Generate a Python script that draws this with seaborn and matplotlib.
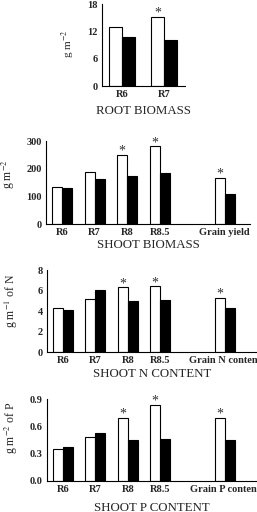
import numpy as np
import pandas as pd
import matplotlib
matplotlib.use("Agg")
import matplotlib.pyplot as plt
import seaborn as sns

sns.set_style("white")
plt.rcParams['font.family'] = ['Liberation Serif', 'DejaVu Serif']
plt.rcParams['mathtext.fontset'] = 'stix'

# dati (barre bianche = trattamento 1, nere = trattamento 2)
root_stages = ['R6', 'R7']
root_white = [13.0, 15.2]
root_black = [10.8, 10.1]
root_star = [False, True]

shoot_stages = ['R6', 'R7', 'R8', 'R8.5', 'Grain yield']
shoot_white = [135, 187, 250, 281, 168]
shoot_black = [132, 161, 173, 184, 110]
shoot_star = [False, False, True, True, True]

n_stages = ['R6', 'R7', 'R8', 'R8.5', 'Grain N content']
n_white = [4.3, 5.2, 6.3, 6.4, 5.3]
n_black = [4.1, 6.1, 5.0, 5.1, 4.3]
n_star = [False, False, True, True, True]

p_stages = ['R6', 'R7', 'R8', 'R8.5', 'Grain P content']
p_white = [0.35, 0.48, 0.69, 0.84, 0.69]
p_black = [0.37, 0.53, 0.45, 0.46, 0.45]
p_star = [False, False, True, True, True]

# (categorie, bianco, nero, asterischi, yticks, formato, ylabel, titolo,
#  posizione assi, posizione ylabel, xlim, labelpad titolo)
panels = [
    (root_stages, root_white, root_black, root_star, [0, 6, 12, 18], '%d',
     r'g m$^{-2}$', 'ROOT BIOMASS', [0.397, 0.832, 0.323, 0.160], (-0.30, 0.51), (-0.48, 1.5), 4),
    (shoot_stages, shoot_white, shoot_black, shoot_star, [0, 100, 200, 300], '%d',
     r'g m$^{-2}$', 'SHOOT BIOMASS', [0.179, 0.5625, 0.794, 0.162], (-0.14, 0.60), (-0.5, 5.78), 1),
    (n_stages, n_white, n_black, n_star, [0, 2, 4, 6, 8], '%d',
     r'g m$^{-1}$ of N', 'SHOOT N CONTENT', [0.183, 0.3125, 0.817, 0.160], (-0.13, 0.62), (-0.5, 6.0), 2),
    (p_stages, p_white, p_black, p_star, [0, 0.3, 0.6, 0.9], '%.1f',
     r'g m$^{-2}$ of P', 'SHOOT P CONTENT', [0.183, 0.0615, 0.817, 0.159], (-0.13, 0.65), (-0.5, 6.0), 6),
]

fig = plt.figure(figsize=(2.57, 5.12), dpi=100)

for stages, white, black, star, yt, fmt, ylab, title, pos, ylpos, xl, lp in panels:
    ax = fig.add_axes(pos)
    df = pd.DataFrame({
        'stage': stages * 2,
        'val': white + black,
        'tr': ['w'] * len(stages) + ['b'] * len(stages),
    })
    order = list(stages)
    if len(stages) > 2:
        order = stages[:4] + [''] + stages[4:]   # spazio vuoto prima della granella
    sns.barplot(data=df, x='stage', y='val', hue='tr', order=order,
                hue_order=['w', 'b'], palette={'w': 'white', 'b': 'black'},
                edgecolor='black', linewidth=0.8, width=0.62, gap=0,
                legend=False, ax=ax)
    for bar, s in zip(ax.containers[0], star):
        if s:
            ax.annotate('*', (bar.get_x() + bar.get_width() / 2, bar.get_height()),
                        xytext=(0, -2), textcoords='offset points',
                        ha='center', va='bottom', fontsize=10, color='#333333')
    ax.set_ylim(0, yt[-1])
    ax.set_xlim(*xl)
    ax.set_yticks(yt)
    ax.set_yticklabels([fmt % v for v in yt], fontweight='bold', fontsize=7.5)
    ax.set_xticks(range(len(order)))
    ax.set_xticklabels(order, fontweight='bold', fontsize=7.5)
    ax.tick_params(length=0, pad=3)
    sns.despine(ax=ax)
    for sp in ['left', 'bottom']:
        ax.spines[sp].set_linewidth(0.8)
        ax.spines[sp].set_color('black')
    ax.set_ylabel(ylab, fontsize=8.5 if len(stages) > 2 else 8)
    ax.yaxis.set_label_coords(*ylpos)
    ax.set_xlabel(title, fontsize=9.3, labelpad=lp)

fig.savefig('out.png', dpi=100)
